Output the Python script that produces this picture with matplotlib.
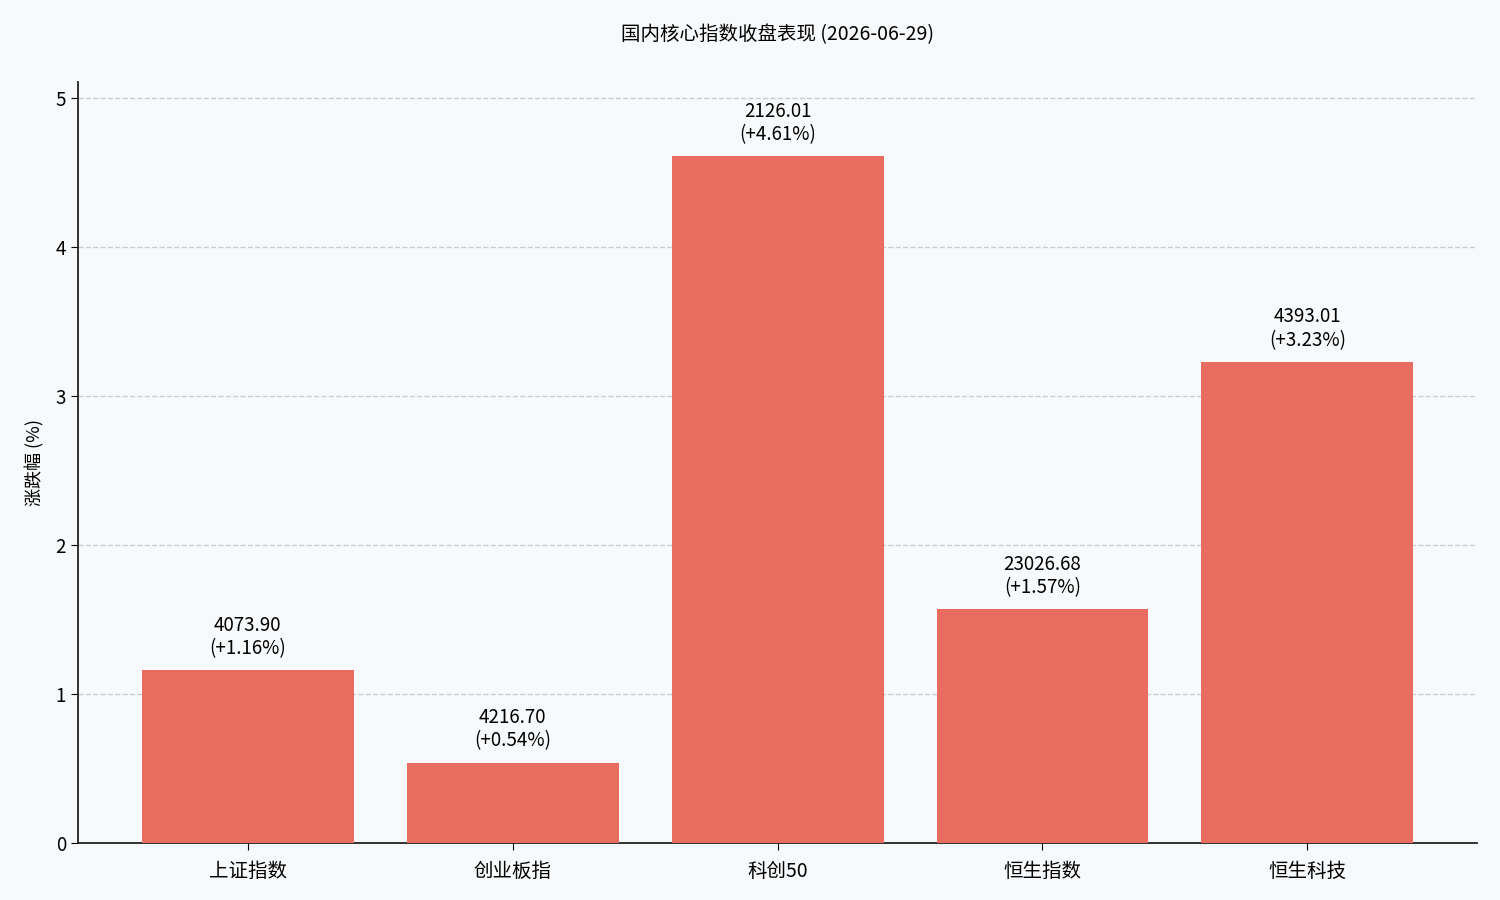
import matplotlib
matplotlib.use("Agg")
import matplotlib.pyplot as plt

plt.rcParams['font.family'] = ['Noto Sans CJK SC', 'DejaVu Sans']

names = ["上证指数", "创业板指", "科创50", "恒生指数", "恒生科技"]
closes = [4073.90, 4216.70, 2126.01, 23026.68, 4393.01]
changes = [1.16, 0.54, 4.61, 1.57, 3.23]
title = "国内核心指数收盘表现 (2026-06-29)"

bg = "#F7F9FB"
fig = plt.figure(figsize=(15, 9), dpi=100, facecolor=bg)
ax = fig.add_axes([0.052, 0.0633, 0.9327, 0.8456], facecolor=bg)

x = range(len(names))
bars = ax.bar(x, changes, width=0.8, color="#E96C60", zorder=3)
ax.set_ylim(0, max(changes) + 0.5)
ax.set_xticks(list(x))
ax.set_xticklabels(names, fontsize=14)
ax.tick_params(axis='x', pad=8, length=5)
ax.tick_params(axis='y', labelsize=13.5, length=5)
ax.set_ylabel("涨跌幅 (%)", fontsize=13, labelpad=8)
ax.set_title(title, fontsize=14, pad=30)
ax.grid(axis='y', linestyle='--', color='#CCCCCC', linewidth=1, zorder=0)
ax.set_axisbelow(True)
for s in ['top', 'right']:
    ax.spines[s].set_visible(False)
for s in ['left', 'bottom']:
    ax.spines[s].set_color('#222222')
    ax.spines[s].set_linewidth(1.3)

for b, c, v in zip(bars, closes, changes):
    ax.annotate(f"{c:.2f}\n(+{v:.2f}%)", (b.get_x() + b.get_width() / 2, b.get_height()),
                xytext=(0, 8), textcoords='offset points', ha='center', va='bottom',
                fontsize=13.5, linespacing=1.15)

fig.savefig("out.png", dpi=100, facecolor=bg)
